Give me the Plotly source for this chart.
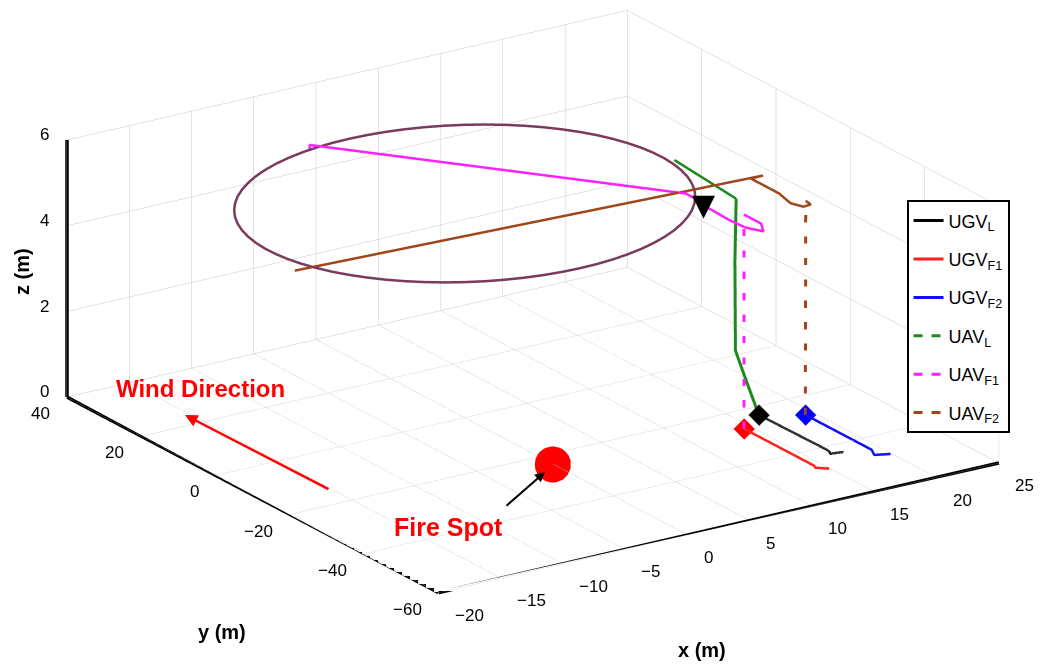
import plotly.graph_objects as go

# ---------------- axis ticks ----------------
x_ticks = [-20, -15, -10, -5, 0, 5, 10, 15, 20, 25]
y_ticks = [-60, -40, -20, 0, 20, 40]
z_ticks = [0, 2, 4, 6]

# ---------------- UGV paths (ground, z = 0) ----------------
ugv_l_x = [16.7, 16.8, 16.75, 16.56, 17.5]
ugv_l_y = [-23.2, -41.1, -42.0, -42.85, -43.3]
ugv_f1_x = [14.4, 14.4, 14.26, 14.93]
ugv_f1_y = [-26.9, -45.7, -46.6, -48.07]
ugv_f2_x = [19.3, 19.3, 18.9, 19.9]
ugv_f2_y = [-27.0, -44.8, -46.9, -47.9]

# ---------------- UAV paths ----------------
uav_l_climb_x = [16.7, 16.5, 16.1, 16.0, 16.0, 16.1]
uav_l_climb_y = [-23.2, -20.4, -18.9, -19.2, -19.1, -19.1]
uav_l_climb_z = [0.0, 0.7, 1.35, 2.0, 3.45, 4.9]
uav_l_move_x = [16.1, 16.3]
uav_l_move_y = [-19.1, -1.8]
uav_l_move_z = [4.9, 5.0]

uav_f1_climb_x = [14.4, 14.4]
uav_f1_climb_y = [-26.9, -26.9]
uav_f1_climb_z = [0.0, 5.0]
uav_f1_move_x = [14.4, 14.4, 13.7, 13.1, 13.0, 13.1, 13.3, 13.4, -2.9, -2.9]
uav_f1_move_y = [-26.9, -31.5, -34.5, -31.6, -27.4, -21.9, -18.6, -14.7, 32.0, 32.0]
uav_f1_move_z = [5.0, 5.0, 5.0, 5.0, 5.0, 5.0, 5.0, 5.0, 5.1, 5.0]

uav_f2_climb_x = [19.3, 19.3]
uav_f2_climb_y = [-27.0, -27.1]
uav_f2_climb_z = [0.0, 5.0]
uav_f2_move_x = [19.3, 19.2, 18.55, 18.2, 18.6, 18.6, 19.6, -16.6]
uav_f2_move_y = [-27.1, -28.8, -29.0, -26.7, -22.2, -14.7, -14.6, -9.9]
uav_f2_move_z = [5.0, 5.0, 5.0, 5.0, 5.0, 5.0, 5.0, 5.0]

# common orbit flown by the UAVs (z = 5 m)
orbit_x = [13.57, 14.25, 14.81, 15.27, 15.60, 15.82, 15.92, 15.90, 15.76, 15.49,
           15.11, 14.62, 14.01, 13.29, 12.48, 11.57, 10.57, 9.49, 8.34, 7.13,
           5.86, 4.54, 3.20, 1.82, 0.44, -0.95, -2.34, -3.70, -5.03, -6.33,
           -7.58, -8.78, -9.90, -10.95, -11.92, -12.79,
           -13.57, -14.25, -14.81, -15.27, -15.60, -15.82, -15.92, -15.90, -15.76, -15.49,
           -15.11, -14.62, -14.01, -13.29, -12.48, -11.57, -10.57, -9.49, -8.34, -7.13,
           -5.86, -4.54, -3.20, -1.82, -0.44, 0.95, 2.34, 3.70, 5.03, 6.33,
           7.58, 8.78, 9.90, 10.95, 11.92, 12.79, 13.57]
orbit_y = [-16.57, -14.07, -11.47, -8.78, -6.02, -3.21, -0.38, 2.45, 5.26, 8.03,
           10.74, 13.38, 15.90, 18.31, 20.58, 22.69, 24.63, 26.38, 27.93, 29.27,
           30.38, 31.27, 31.91, 32.32, 32.47, 32.39, 32.05, 31.47, 30.65, 29.60,
           28.32, 26.82, 25.12, 23.23, 21.17, 18.94,
           16.57, 14.07, 11.47, 8.78, 6.02, 3.21, 0.38, -2.45, -5.26, -8.03,
           -10.74, -13.38, -15.90, -18.31, -20.58, -22.69, -24.63, -26.38, -27.93, -29.27,
           -30.38, -31.27, -31.91, -32.32, -32.47, -32.39, -32.05, -31.47, -30.65, -29.60,
           -28.32, -26.82, -25.12, -23.23, -21.17, -18.94, -16.57]
orbit_z = [5.0] * len(orbit_x)

# fire spot and UAV leader marker
fire_x, fire_y, fire_z = [0.0], [-23.6], [0.0]
target_x, target_y, target_z = 13.2, -20.1, 5.0

legend_names = ["UGV<sub>L</sub>", "UGV<sub>F1</sub>", "UGV<sub>F2</sub>",
                "UAV<sub>L</sub>", "UAV<sub>F1</sub>", "UAV<sub>F2</sub>"]

C_BLACK = "#000000"
C_RED = "#ff2020"
C_BLUE = "#1010ff"
C_GREEN = "#1e8a1e"
C_MAG = "#ff20ff"
C_BROWN = "#a0461a"
C_ORBIT = "#7a3a5c"
LW = 5

fig = go.Figure()

def zeros(n):
    return [0.0] * n

# solid black axis lines along the three labelled box edges
x0, x1 = x_ticks[0], x_ticks[-1]
y0, y1 = y_ticks[0], y_ticks[-1]
z0, z1 = z_ticks[0], z_ticks[-1]
fig.add_trace(go.Scatter3d(x=[x1, x0], y=[y0, y0], z=[z0, z0],
                           mode="lines", line=dict(color="black", width=7),
                           showlegend=False, hoverinfo="skip"))
fig.add_trace(go.Scatter3d(x=[x0, x0], y=[y0, y1], z=[z0, z0],
                           mode="lines", line=dict(color="black", width=7),
                           showlegend=False, hoverinfo="skip"))
fig.add_trace(go.Scatter3d(x=[x0, x0], y=[y1, y1], z=[z0, z1],
                           mode="lines", line=dict(color="black", width=7),
                           showlegend=False, hoverinfo="skip"))

# UGV lines
for xs, ys, col in [(ugv_l_x, ugv_l_y, C_BLACK), (ugv_f1_x, ugv_f1_y, C_RED),
                    (ugv_f2_x, ugv_f2_y, C_BLUE)]:
    fig.add_trace(go.Scatter3d(x=xs, y=ys, z=zeros(len(xs)), mode="lines",
                               line=dict(color=col, width=LW), opacity=0.8 if col == C_BLACK else 1,
                               showlegend=False))

# UAV climbs
for xs, ys, zs, col, dash in [
    (uav_l_climb_x, uav_l_climb_y, uav_l_climb_z, C_GREEN, "solid"),
    (uav_f1_climb_x, uav_f1_climb_y, uav_f1_climb_z, C_MAG, "longdash"),
    (uav_f2_climb_x, uav_f2_climb_y, uav_f2_climb_z, C_BROWN, "longdash"),
]:
    fig.add_trace(go.Scatter3d(x=xs, y=ys, z=zs, mode="lines",
                               line=dict(color=col, width=LW + 1, dash=dash),
                               showlegend=False))

# UAV transit paths
for xs, ys, zs, col in [
    (uav_l_move_x, uav_l_move_y, uav_l_move_z, C_GREEN),
    (uav_f1_move_x, uav_f1_move_y, uav_f1_move_z, C_MAG),
    (uav_f2_move_x, uav_f2_move_y, uav_f2_move_z, C_BROWN),
]:
    fig.add_trace(go.Scatter3d(x=xs, y=ys, z=zs, mode="lines",
                               line=dict(color=col, width=LW), showlegend=False))

# orbit
fig.add_trace(go.Scatter3d(x=orbit_x, y=orbit_y, z=orbit_z, mode="lines",
                           line=dict(color=C_ORBIT, width=LW), showlegend=False))

# UGV start diamonds
for xs, ys, col in [(ugv_l_x, ugv_l_y, C_BLACK), (ugv_f1_x, ugv_f1_y, "#ff0000"),
                    (ugv_f2_x, ugv_f2_y, "#0000ff")]:
    fig.add_trace(go.Scatter3d(x=[xs[0]], y=[ys[0]], z=[0.0], mode="markers",
                               marker=dict(symbol="diamond", size=7, color=col,
                                           line=dict(width=0)),
                               showlegend=False))

# fire spot
fig.add_trace(go.Scatter3d(x=fire_x, y=fire_y, z=fire_z, mode="markers",
                           marker=dict(symbol="circle", size=21, color="#ff0000",
                                       line=dict(width=0)),
                           showlegend=False))

# legend entries (legend-only proxies so that the dash style shows in the key)
for i, (name, col, dash) in enumerate(zip(legend_names,
                           [C_BLACK, C_RED, C_BLUE, C_GREEN, C_MAG, C_BROWN],
                           ["solid", "solid", "solid", "dash", "dash", "dash"])):
    fig.add_trace(go.Scatter(x=[None], y=[None], mode="lines", name=name,
                             legendgroup="lg%d" % i,
                             line=dict(color=col, width=3, dash=dash)))

FONT = "Liberation Sans, Arial, Helvetica, sans-serif"

def axis(rng, ticks):
    return dict(range=rng, tickvals=ticks, autorange=False, title=dict(text=""),
                showticklabels=False,
                showbackground=False, gridcolor="#c8c8c8", gridwidth=1,
                showline=False, ticks="",
                zeroline=False, showspikes=False)

def fmt(v):
    return str(v).replace("-", "\u2212")

TF = dict(family=FONT, size=17, color="black")
scene_ann = []
for v in x_ticks:
    scene_ann.append(dict(x=v, y=-60, z=0, text=fmt(v), showarrow=False,
                          xanchor="left", yanchor="middle", xshift=14, yshift=-23, font=TF))
for v in y_ticks:
    scene_ann.append(dict(x=-20, y=v, z=0, text=fmt(v), showarrow=False,
                          xanchor="right", yanchor="middle", xshift=-15, yshift=-17, font=TF))
for v in z_ticks:
    scene_ann.append(dict(x=-20, y=40, z=v, text=fmt(v), showarrow=False,
                          xanchor="right", yanchor="middle", xshift=-16, yshift=5, font=TF))
scene_ann.append(dict(x=target_x, y=target_y, z=target_z, text="▼",
                      showarrow=False, font=dict(size=30, color="black",
                                                 family="DejaVu Sans")))

S = 2.23
k = 4.0
fig.update_layout(
    width=1042, height=668,
    margin=dict(l=0, r=0, t=0, b=0),
    paper_bgcolor="white", plot_bgcolor="white",
    font=dict(family=FONT, size=16, color="black"),
    xaxis=dict(visible=False), yaxis=dict(visible=False),
    scene=dict(
        domain=dict(x=[0.023, 1.0], y=[0.098, 1.0]),
        xaxis=axis([-20, 25], x_ticks),
        yaxis=axis([-60, 40], y_ticks),
        zaxis=axis([0, 6], z_ticks),
        aspectmode="manual",
        aspectratio=dict(x=S, y=S, z=0.408 * S),
        camera=dict(eye=dict(x=-0.518 * k, y=-0.781 * k, z=0.349 * k),
                    up=dict(x=0, y=0, z=1), center=dict(x=0, y=0, z=0),
                    projection=dict(type="orthographic")),
        annotations=scene_ann,
    ),
    legend=dict(x=0.870, y=0.70, xanchor="left", yanchor="top",
                bgcolor="white", bordercolor="black", borderwidth=2,
                font=dict(family=FONT, size=18, color="black"),
                tracegroupgap=12, itemwidth=30),
    annotations=[
        dict(xref="paper", yref="paper", x=22 / 1042, y=(668 - 272) / 668,
             xanchor="center", yanchor="middle",
             text="<b>z (m)</b>", showarrow=False, textangle=-90,
             font=dict(size=20, family=FONT)),
        dict(xref="paper", yref="paper", x=222 / 1042, y=(668 - 632) / 668,
             xanchor="center", yanchor="middle",
             text="<b>y (m)</b>", showarrow=False, font=dict(size=20, family=FONT)),
        dict(xref="paper", yref="paper", x=702 / 1042, y=(668 - 650) / 668,
             xanchor="center", yanchor="middle",
             text="<b>x (m)</b>", showarrow=False, font=dict(size=20, family=FONT)),
        dict(xref="paper", yref="paper", x=200 / 1042, y=(668 - 388) / 668,
             xanchor="center", yanchor="middle",
             text="<b>Wind Direction</b>", showarrow=False,
             font=dict(size=24, color="#ff0000", family=FONT)),
        dict(xref="paper", yref="paper", x=185 / 1042, y=(668 - 415) / 668,
             text="", showarrow=True, ax=145, ay=75, arrowcolor="#ff0000",
             arrowwidth=2.5, arrowhead=2, arrowsize=1),
        dict(xref="paper", yref="paper", x=448 / 1042, y=(668 - 527) / 668,
             xanchor="center", yanchor="middle",
             text="<b>Fire Spot</b>", showarrow=False,
             font=dict(size=25, color="#ff0000", family=FONT)),
        dict(xref="paper", yref="paper", x=545 / 1042, y=(668 - 472) / 668,
             text="", showarrow=True, ax=-40, ay=35, arrowcolor="black",
             arrowwidth=2, arrowhead=2, arrowsize=1),
    ],
)

fig.write_html("out.html", config={"displayModeBar": False})
